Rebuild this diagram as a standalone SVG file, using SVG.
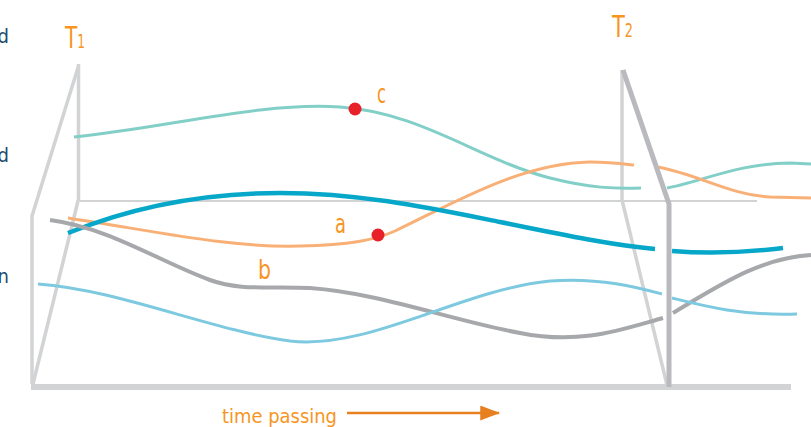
<svg xmlns="http://www.w3.org/2000/svg" width="811" height="427" viewBox="0 0 811 427">
<style>
.pl{fill:none;stroke:#d2d3d5;stroke-linecap:butt;stroke-linejoin:miter}
.pd{fill:none;stroke:#b9babe;stroke-width:5}
.cv{fill:none;stroke-linecap:butt}
.teal{stroke:#82cfc8;stroke-width:3}
.orange{stroke:#f9b077;stroke-width:3}
.blue{stroke:#06a7c9;stroke-width:4.5}
.gray{stroke:#a7a8ab;stroke-width:4}
.lblue{stroke:#7cc9e0;stroke-width:3}
.dot{fill:#e8202a}
.lab{font-family:"DejaVu Sans Condensed","DejaVu Sans",sans-serif;font-stretch:condensed;fill:#f7951f}
.side{font-family:"DejaVu Sans Condensed","DejaVu Sans",sans-serif;fill:#1d4b6c;font-size:20px}
</style>
<defs>
<marker id="arr" markerWidth="8" markerHeight="6" refX="7.5" refY="3" orient="auto" markerUnits="strokeWidth">
<path d="M0,0 L8,3 L0,6 Z" fill="#e8801f"/>
</marker>
</defs>

<g id="side-labels">
<text class="side" x="9" y="43" text-anchor="end">d</text>
<text class="side" x="9" y="162" text-anchor="end">d</text>
<text class="side" x="9" y="283" text-anchor="end">n</text>
</g>

<g id="axis">
<line class="pl" x1="80" y1="201" x2="757" y2="201" stroke-width="2"/>
<line class="pl" x1="31" y1="387" x2="791" y2="387" stroke-width="6"/>
</g>

<g id="plane-t1">
<path class="pl" stroke-width="3.5" d="M78.5,64 L78.5,199 L33,384"/>
<path class="pl" stroke-width="3.5" d="M78.5,66 L32,216 L32,384"/>
</g>

<g id="plane-t2-back">
<path class="pl" stroke-width="3.5" d="M622,70 L622,200 L667,385"/>
</g>

<g id="connectors">
<path class="cv teal" d="M74,137 C170,127 260,102 340,107 C420,112 480,160 550,178 C590,188 615,189 641,188"/>
<path class="cv teal" d="M667,188 C700,182 740,163 790,163 L811,164"/>
<path class="cv orange" d="M68,218 C160,232 230,248 300,246 C350,245 375,240 395,231 C450,205 520,163 590,162 C610,162 625,164 634,165"/>
<path class="cv orange" d="M658,167 C700,175 730,195 770,197 L811,198"/>
<path class="cv blue" d="M68,233 C130,208 200,193 280,193 C360,193 430,208 500,222 C560,234 610,245 655,249"/>
<path class="cv blue" d="M672,251 C710,254 750,252 783,248"/>
<path class="cv gray" d="M50,220 C110,228 160,262 210,280 C240,291 270,286 310,288 C380,293 450,320 520,333 C580,345 620,330 663,318"/>
<path class="cv gray" d="M673,313 C720,285 760,258 811,255"/>
<path class="cv lblue" d="M38,284 C120,290 210,330 290,341 C370,350 460,290 550,281 C600,277 640,288 662,294"/>
<path class="cv lblue" d="M672,298 C700,305 740,316 797,314"/>
</g>

<g id="plane-t2-front">
<path class="pd" d="M623,70 L669,204 L669,387"/>
</g>

<g id="point-c">
<circle class="dot" cx="355" cy="109" r="6.5"/>
<text class="lab" x="377" y="103" font-size="26" textLength="9" lengthAdjust="spacingAndGlyphs">c</text>
</g>
<g id="point-a">
<circle class="dot" cx="378" cy="235" r="6.5"/>
<text class="lab" x="335" y="233" font-size="27" textLength="11" lengthAdjust="spacingAndGlyphs">a</text>
</g>
<g id="label-b">
<text class="lab" x="258" y="279" font-size="27" textLength="13" lengthAdjust="spacingAndGlyphs">b</text>
</g>

<g id="label-t1">
<text class="lab" x="65" y="48" font-size="31" textLength="20" lengthAdjust="spacingAndGlyphs">T<tspan font-size="19">1</tspan></text>
</g>
<g id="label-t2">
<text class="lab" x="612" y="37" font-size="31" textLength="21" lengthAdjust="spacingAndGlyphs">T<tspan font-size="19">2</tspan></text>
</g>

<g id="time-passing">
<text class="lab" x="222" y="423" font-size="20" textLength="115" lengthAdjust="spacingAndGlyphs">time passing</text>
<line x1="347" y1="413" x2="499" y2="413" stroke="#e8801f" stroke-width="2.5" marker-end="url(#arr)"/>
</g>
</svg>
